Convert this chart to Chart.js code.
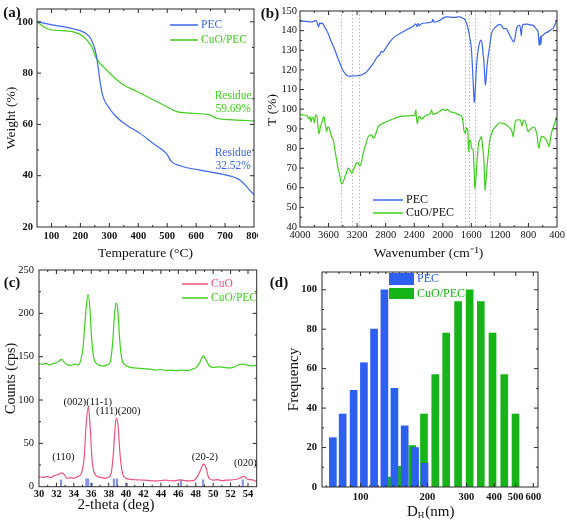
<!DOCTYPE html>
<html>
<head>
<meta charset="utf-8">
<script src="https://cdn.jsdelivr.net/npm/chart.js@4.4.1/dist/chart.umd.min.js"></script>
<style>
  body { margin: 0; background: #fff; }
  #wrap { position: relative; width: 567px; height: 526px; overflow: hidden; background: #fff; }
  canvas { position: absolute; }
</style>
</head>
<body>
<div id="wrap">
  <canvas id="chartA" width="258" height="262" style="left:0;top:0"></canvas>
  <canvas id="chartB" width="309" height="262" style="left:258px;top:0"></canvas>
  <canvas id="chartC" width="260" height="264" style="left:0;top:262px"></canvas>
  <canvas id="chartD" width="307" height="264" style="left:260px;top:262px"></canvas>
</div>
<script>
// ---- (a) TGA ----
const tgaTempPec   = [50, 94, 175, 215, 238, 255, 261, 267, 278, 296, 324, 359, 405, 451, 497, 515, 544, 613, 705, 751, 800];
const tgaWeightPec = [100, 99, 97.3, 95.7, 93, 87, 82.6, 77.4, 70.9, 67, 63, 59.8, 56.6, 52.6, 48.7, 45.5, 43.9, 42.2, 40.2, 38.3, 32.5];
const tgaTempCuo   = [50, 70, 94, 175, 209, 238, 255, 278, 313, 348, 394, 451, 497, 532, 578, 647, 670, 728, 800];
const tgaWeightCuo = [100, 98.3, 97, 96.1, 94.4, 90.5, 85.8, 82.6, 78.7, 75.5, 72.9, 69.6, 67, 65, 64.4, 63.7, 62.4, 61.8, 61.4];
const tgaTicksX = [100, 200, 300, 400, 500, 600, 700, 800];
const tgaTicksY = [20, 40, 60, 80, 100];

// ---- (b) FTIR ----
const wnPec = [4000, 3900, 3850, 3813, 3776, 3755, 3739, 3725, 3711, 3690, 3673, 3650, 3627, 3600, 3580, 3545, 3510, 3475, 3440, 3405, 3370, 3335, 3300, 3230, 3160, 3110, 3067, 3020, 2974, 2930, 2900, 2881, 2860, 2840, 2811, 2775, 2741, 2680, 2601, 2500, 2414, 2380, 2360, 2345, 2330, 2300, 2228, 2150, 2140, 2120, 2041, 1990, 1948, 1850, 1761, 1720, 1691, 1665, 1645, 1620, 1598, 1580, 1561, 1555, 1545, 1528, 1505, 1481, 1465, 1450, 1435, 1425, 1410, 1402, 1392, 1380, 1365, 1340, 1318, 1270, 1230, 1202, 1170, 1150, 1108, 1080, 1055, 1038, 1020, 1001, 985, 970, 959, 940, 922, 912, 900, 892, 880, 866, 820, 760, 735, 700, 680, 665, 650, 642, 635, 626, 618, 600, 572, 520, 470, 455, 430, 400];
const tPec  = [144.9, 144.7, 144.4, 144.6, 145.2, 143.5, 141.9, 144, 143.6, 143.8, 143.2, 141.5, 140.2, 138, 136, 133, 130, 126.5, 123.3, 120.2, 118.2, 117, 116.8, 117, 117.2, 118, 119, 121, 123.3, 126, 127.2, 127.8, 129.5, 129, 130.5, 132.5, 134.3, 136.7, 138.5, 140.6, 142.2, 143.5, 142, 143.6, 142.5, 143.5, 143.9, 144.5, 145.8, 144.3, 145.3, 146.5, 147, 146.8, 147, 146.3, 145.6, 143.5, 141, 136, 130, 118, 104.5, 103.5, 110, 121.6, 130, 134.3, 135.2, 133.5, 128, 125, 115, 112.3, 116, 122, 126.7, 133, 138.5, 141.5, 142.8, 143.2, 142.4, 141, 141, 139, 137, 136, 134.8, 134.3, 137, 140.5, 141.9, 142.6, 142.7, 141, 137.5, 141, 142.8, 143.2, 143.3, 142.8, 142.7, 141.3, 140.5, 139.3, 133, 132.5, 137, 133, 136.8, 137.5, 138.5, 139.5, 140.8, 141, 143, 145.3];
const wnCuo = [4000, 3950, 3900, 3870, 3860, 3845, 3830, 3813, 3800, 3785, 3767, 3750, 3738, 3729, 3715, 3697, 3680, 3664, 3650, 3635, 3627, 3610, 3590, 3575, 3557, 3534, 3510, 3487, 3468, 3450, 3430, 3417, 3400, 3385, 3370, 3345, 3324, 3300, 3277, 3255, 3230, 3210, 3198, 3180, 3160, 3140, 3114, 3080, 3044, 3020, 2997, 2980, 2965, 2940, 2904, 2850, 2787, 2700, 2601, 2500, 2391, 2377, 2368, 2354, 2340, 2321, 2300, 2228, 2180, 2158, 2140, 2088, 2040, 1994, 1960, 1940, 1901, 1850, 1800, 1761, 1735, 1724, 1712, 1705, 1690, 1682, 1670, 1659, 1648, 1640, 1635, 1625, 1612, 1595, 1575, 1562, 1552, 1547, 1538, 1519, 1500, 1481, 1470, 1458, 1445, 1425, 1415, 1407, 1398, 1379, 1360, 1342, 1320, 1295, 1250, 1202, 1150, 1108, 1070, 1038, 1025, 1015, 1000, 985, 968, 940, 912, 900, 889, 878, 852, 830, 805, 780, 758, 735, 712, 695, 679, 665, 651, 640, 620, 595, 575, 548, 530, 511, 495, 478, 455, 432, 415, 400];
const tCuo  = [97.4, 97, 96.5, 95, 96.2, 93.5, 95.8, 95.3, 93, 96.5, 97, 92, 88, 87.7, 91, 92.8, 95, 96.2, 93, 90, 88.6, 91, 90.3, 88, 86, 84.3, 79, 74.2, 70, 67.4, 63.5, 61.8, 62.5, 64, 65.7, 68, 70, 69, 67.4, 69, 70.8, 72.5, 72.8, 72.2, 71.1, 73, 77.6, 82, 86, 86.7, 86.9, 85.6, 85.2, 87.5, 91.1, 92.6, 93.6, 95, 96.2, 96.6, 97, 99.6, 95, 92.8, 96, 96.2, 95, 97, 97.5, 99.6, 97.3, 97.9, 99, 99.9, 99.2, 100, 98.7, 98.4, 97.5, 97, 96.2, 95.3, 92, 89.4, 88, 87.7, 90.5, 90.2, 88, 80, 78.4, 84, 84.3, 80, 79.3, 70, 61, 59.5, 64, 74.2, 82, 84.3, 85.5, 86, 82, 74.2, 65, 58.5, 62, 70.8, 78, 84.3, 87, 89.4, 91.5, 93.1, 92.6, 92, 90.6, 89.4, 87.5, 86, 90, 93.5, 94.5, 94.6, 94.5, 93, 91.5, 93.5, 94.5, 92, 88.6, 89.5, 90.3, 90.8, 90.8, 89, 86.9, 82, 80.1, 83, 86, 86, 85.5, 84.3, 82.5, 81, 84, 87.7, 90.5, 92.8, 94.5, 96.2];
const wnMarkers = [3426, 3277, 3174, 1682, 1635, 1551, 1342];
const ftirTicksX = [4000, 3600, 3200, 2800, 2400, 2000, 1600, 1200, 800, 400];
const ftirTicksY = [40, 50, 60, 70, 80, 90, 100, 110, 120, 130, 140, 150];

// ---- (c) XRD ----
const thetaCuo  = [30, 30.5, 31, 31.3, 31.7, 32, 32.3, 32.6, 32.9, 33.2, 33.6, 34, 34.4, 34.8, 35.0, 35.2, 35.4, 35.67, 35.9, 36.1, 36.4, 36.8, 37.2, 37.6, 38.0, 38.3, 38.55, 38.75, 38.9, 39.1, 39.3, 39.6, 40.0, 40.5, 41, 41.6, 42.5, 43.5, 44.5, 45.5, 46.2, 47, 47.7, 48.2, 48.5, 48.8, 48.95, 49.2, 49.5, 50, 50.5, 51, 51.5, 52, 52.5, 53, 53.5, 54, 54.5, 55];
const countsCuo = [11.5, 10.8, 11.8, 10.5, 12.5, 13.5, 14.5, 16, 14, 9.6, 10.5, 9.8, 11.5, 14, 20, 35, 70, 92, 65, 30, 15, 11.5, 10.5, 9.6, 11, 16, 40, 70, 79, 68, 38, 15, 9.6, 8.5, 8, 7.7, 7.2, 6.8, 7.5, 6.8, 7.8, 6.8, 7, 12, 18, 25, 26, 21, 10, 7.5, 8.2, 6.9, 7.5, 7.7, 8.3, 9.5, 12, 8.5, 7.8, 5.8];
const thetaComp  = [30, 30.4, 30.8, 31.2, 31.6, 32, 32.3, 32.6, 32.9, 33.3, 33.7, 34.1, 34.5, 34.8, 35.05, 35.25, 35.45, 35.65, 35.85, 36.05, 36.3, 36.6, 37, 37.4, 37.8, 38.15, 38.45, 38.65, 38.85, 39.05, 39.25, 39.5, 39.9, 40.4, 41, 41.6, 42.2, 42.8, 43.4, 44, 44.6, 45.2, 45.8, 46.4, 47, 47.6, 48.1, 48.5, 48.85, 49.2, 49.6, 50.1, 50.6, 51.2, 51.8, 52.4, 53, 53.5, 54, 54.5, 55];
const countsComp = [142.3, 141, 142.5, 140.5, 142, 143, 145, 147, 143.5, 140.5, 140, 141.5, 140.5, 146, 160, 185, 210, 222, 205, 170, 148, 142.3, 140, 139.2, 140.5, 143, 165, 195, 212, 204, 172, 148, 140.5, 138, 137, 136.5, 136, 135.5, 134.6, 135.2, 134, 134.6, 133.8, 134.5, 134, 135.5, 138, 144, 151, 146, 139, 137.5, 138.2, 137.7, 137, 138, 141, 141.5, 140, 139.5, 140.4];
const refTheta  = [32.53, 35.45, 35.65, 36.05, 38.6, 38.95, 40.1, 46.3, 48.85, 53.4];
const refHeight = [8, 9, 9, 4, 9, 9, 4, 8, 8, 8];
const xrdTicksX = [30, 32, 34, 36, 38, 40, 42, 44, 46, 48, 50, 52, 54];
const xrdTicksY = [0, 50, 100, 150, 200, 250];

// ---- (d) DLS ----
const dlsSizePec = [75, 83, 93, 103.5, 115, 128, 142, 158, 176, 194];
const dlsFreqPec = [25, 37, 49, 63, 80, 100, 50, 31, 20, 12];
const dlsSizeCuo = [135, 149, 171, 193, 217, 243, 275, 310, 348, 393, 444, 499];
const dlsFreqCuo = [5, 10.5, 21, 37, 57, 78, 94, 100, 94, 78, 57, 37];
const dlsTicksX = [100, 200, 300, 400, 500, 600];
const dlsTicksY = [0, 20, 40, 60, 80, 100];

const SERIF = "'Liberation Serif', 'Times New Roman', serif";
const BLUE = '#3a66ee';
const GREEN = '#3fcf1c';
const PINK = '#f0507c';
const BAR_BLUE = '#2d5ff0';
const BAR_GREEN = '#17b417';

const pts = (xs, ys) => xs.map((x, i) => ({x: x, y: ys[i]}));

function setTicks(vals) {
  return s => { s.ticks = vals.map(v => ({value: v})); };
}
function fixSize(size) {
  return s => {
    if (s.isHorizontal()) s.height = size; else s.width = size;
    s.paddingLeft = 0; s.paddingRight = 0; s.paddingTop = 0; s.paddingBottom = 0;
  };
}
function axis(o) {
  return {
    type: o.type || 'linear',
    min: o.min, max: o.max, reverse: !!o.reverse, offset: false, bounds: 'data',
    afterBuildTicks: setTicks(o.ticks),
    afterFit: fixSize(o.size),
    grid: {display: false, drawTicks: false},
    border: {display: false},
    ticks: {
      autoSkip: false, maxRotation: 0, minRotation: 0, padding: o.pad,
      color: '#111', font: {family: SERIF, size: 10.5, weight: o.bold ? 'bold' : 'normal'},
      callback: v => String(v)
    },
    title: o.title ? {display: true, text: o.title, color: '#111',
      font: {family: SERIF, size: o.tsize || 14}, padding: o.tpad} : {display: false}
  };
}

// frame, inward ticks, labels, legends
function deco(cfg) {
  return {
    id: 'deco',
    beforeDatasetsDraw(chart) {
      if (!cfg.vlines) return;
      const {ctx, chartArea: a} = chart;
      ctx.save();
      ctx.strokeStyle = '#bcbcbc'; ctx.lineWidth = 1; ctx.setLineDash([1.5, 2]);
      cfg.vlines.forEach(v => {
        const x = Math.round(chart.scales.x.getPixelForValue(v)) + 0.5;
        ctx.beginPath(); ctx.moveTo(x, a.top); ctx.lineTo(x, a.bottom); ctx.stroke();
      });
      ctx.restore();
    },
    afterDraw(chart) {
      const {ctx, chartArea: a} = chart;
      const sx = chart.scales.x, sy = chart.scales.y;
      ctx.save();
      ctx.strokeStyle = '#2a2a2a'; ctx.lineWidth = 1;
      ctx.strokeRect(a.left, a.top, a.right - a.left, a.bottom - a.top);
      const marks = (scale, vals, len) => {
        const lo = Math.min(scale.min, scale.max), hi = Math.max(scale.min, scale.max);
        vals.filter(v => v > lo && v < hi).forEach(v => {
          const p = scale.getPixelForValue(v);
          ctx.beginPath();
          if (scale.isHorizontal()) {
            ctx.moveTo(p, a.bottom); ctx.lineTo(p, a.bottom - len);
            ctx.moveTo(p, a.top); ctx.lineTo(p, a.top + len);
          } else {
            ctx.moveTo(a.left, p); ctx.lineTo(a.left + len, p);
            ctx.moveTo(a.right, p); ctx.lineTo(a.right - len, p);
          }
          ctx.stroke();
        });
      };
      marks(sx, sx.ticks.map(t => t.value), 4);
      marks(sy, sy.ticks.map(t => t.value), 4);
      marks(sx, cfg.minorX || [], 2);
      marks(sy, cfg.minorY || [], 2);

      ctx.textBaseline = 'middle';
      (cfg.texts || []).forEach(t => {
        let x, y;
        if (t.at) { x = sx.getPixelForValue(t.at[0]); y = sy.getPixelForValue(t.at[1]); }
        else { x = t.x - cfg.ox; y = t.y - cfg.oy; }
        ctx.font = t.font; ctx.fillStyle = t.color || '#111';
        ctx.textAlign = t.align || 'center';
        ctx.fillText(t.text, x, y);
      });
      (cfg.legend || []).forEach(l => {
        const x = l.x - cfg.ox, y = l.y - cfg.oy;
        if (l.box) {
          ctx.fillStyle = l.color;
          ctx.fillRect(x, y - l.h / 2, l.w, l.h);
        } else {
          ctx.strokeStyle = l.color; ctx.lineWidth = 1.5;
          ctx.beginPath(); ctx.moveTo(x, y); ctx.lineTo(x + l.w, y); ctx.stroke();
        }
        ctx.font = l.font; ctx.fillStyle = l.textColor; ctx.textAlign = 'left';
        ctx.fillText(l.text, x + l.w + 3, y);
      });
      if (cfg.sub) {
        // axis title with a subscript
        const s = cfg.sub;
        let x = s.x - cfg.ox; const y = s.y - cfg.oy;
        ctx.fillStyle = '#111'; ctx.textAlign = 'left';
        ctx.font = s.font; ctx.fillText(s.main, x, y); x += ctx.measureText(s.main).width;
        ctx.font = s.subFont; ctx.fillText(s.sub, x, y + 4); x += ctx.measureText(s.sub).width + 1;
        ctx.font = s.font; ctx.fillText(s.rest, x, y);
      }
      ctx.restore();
    }
  };
}

const base = {
  responsive: false, animation: false, events: [],
  plugins: {legend: {display: false}, tooltip: {enabled: false}},
  elements: {point: {radius: 0}, line: {borderWidth: 1.2, cubicInterpolationMode: 'monotone'}}
};
const LBL = 'bold 15px ' + SERIF;
const LEG = '11.5px ' + SERIF;

// (a)
new Chart(document.getElementById('chartA'), {
  type: 'line',
  data: {datasets: [
    {data: pts(tgaTempPec, tgaWeightPec), borderColor: BLUE},
    {data: pts(tgaTempCuo, tgaWeightCuo), borderColor: GREEN}
  ]},
  options: Object.assign({}, base, {
    layout: {padding: {left: 0, right: 4, top: 9, bottom: 0}},
    scales: {
      x: axis({min: 50, max: 800, ticks: tgaTicksX, size: 35, pad: 3, bold: true, title: 'Temperature (°C)', tsize: 13.5, tpad: {top: 0, bottom: 0}}),
      y: axis({min: 20, max: 105, ticks: tgaTicksY, size: 37, pad: 4, bold: true, title: 'Weight (%)', tsize: 13.5, tpad: {top: 3, bottom: 0}})
    }
  }),
  plugins: [deco({
    ox: 0, oy: 0,
    minorX: [150, 250, 350, 450, 550, 650, 750],
    minorY: [30, 50, 70, 90],
    texts: [
      {text: '(a)', x: 12, y: 13, font: LBL},
      {text: 'Residue', at: [728, 70.9], color: GREEN, font: LEG},
      {text: '59.69%', at: [728, 65.9], color: GREEN, font: LEG},
      {text: 'Residue', at: [728, 48.7], color: BLUE, font: LEG},
      {text: '32.52%', at: [728, 43.9], color: BLUE, font: LEG}
    ],
    legend: [
      {x: 170, y: 25, w: 28, color: BLUE, text: 'PEC', textColor: BLUE, font: LEG},
      {x: 170, y: 40, w: 28, color: GREEN, text: 'CuO/PEC', textColor: GREEN, font: LEG}
    ]
  })]
});

// (b)
new Chart(document.getElementById('chartB'), {
  type: 'line',
  data: {datasets: [
    {data: pts(wnPec, tPec), borderColor: BLUE},
    {data: pts(wnCuo, tCuo), borderColor: GREEN}
  ]},
  options: Object.assign({}, base, {
    layout: {padding: {left: 0, right: 10, top: 11, bottom: 0}},
    scales: {
      x: axis({min: 400, max: 4000, reverse: true, ticks: ftirTicksX, size: 35, pad: 2, title: 'Wavenumber (cm\u207B\u00B9)', tsize: 13.5, tpad: {top: 0, bottom: 0}}),
      y: axis({min: 40, max: 150, ticks: ftirTicksY, size: 42, pad: 3, size2: 0})
    }
  }),
  plugins: [deco({
    ox: 258, oy: 0, vlines: wnMarkers,
    minorX: [3800, 3400, 3000, 2600, 2200, 1800, 1400, 1000, 600],
    minorY: [45, 55, 65, 75, 85, 95, 105, 115, 125, 135, 145],
    texts: [{text: '(b)', x: 270, y: 14, font: LBL}],
    legend: [
      {x: 373, y: 200, w: 30, color: BLUE, text: 'PEC', textColor: '#111', font: '12px ' + SERIF},
      {x: 373, y: 213, w: 30, color: GREEN, text: 'CuO/PEC', textColor: '#111', font: '12px ' + SERIF}
    ]
  }), {
    id: 'yTitleB',
    afterDraw(chart) {
      // rotated y title, placed a little above the axis middle as in the figure
      const ctx = chart.ctx;
      ctx.save();
      ctx.translate(14, 110);
      ctx.rotate(-Math.PI / 2);
      ctx.font = '13.5px ' + SERIF; ctx.fillStyle = '#111';
      ctx.textAlign = 'center'; ctx.textBaseline = 'middle';
      ctx.fillText('T (%)', 0, 0);
      ctx.restore();
    }
  }]
});

// (c)
new Chart(document.getElementById('chartC'), {
  type: 'line',
  data: {datasets: [
    {data: pts(thetaCuo, countsCuo), borderColor: PINK},
    {data: pts(thetaComp, countsComp), borderColor: GREEN},
    {type: 'bar', data: pts(refTheta, refHeight), backgroundColor: '#8394ea', barThickness: 1.5, grouped: false}
  ]},
  options: Object.assign({}, base, {
    layout: {padding: {left: 0, right: 3.3, top: 8, bottom: 0}},
    scales: {
      x: axis({min: 30, max: 55, ticks: xrdTicksX, size: 39.3, pad: 1, bold: true}),
      y: axis({min: 0, max: 250, ticks: xrdTicksY, size: 39, pad: 5, title: 'Counts (cps)', tsize: 14, tpad: {top: 3, bottom: 0}})
    }
  }),
  plugins: [deco({
    ox: 0, oy: 262,
    minorX: [31, 33, 35, 37, 39, 41, 43, 45, 47, 49, 51, 53],
    minorY: [25, 75, 125, 175, 225],
    texts: [
      {text: '(c)', x: 12, y: 283, font: LBL},
      {text: '2-theta (deg)', x: 116, y: 505, font: '15px ' + SERIF},
      {text: '(110)', at: [32.8, 34], font: '10.5px ' + SERIF},
      {text: '(002)(11-1)', at: [35.6, 98], font: '10.5px ' + SERIF},
      {text: '(111)(200)', at: [39.1, 86.5], font: '10.5px ' + SERIF},
      {text: '(20-2)', at: [49.05, 34.5], font: '10.5px ' + SERIF},
      {text: '(020)', at: [53.7, 27], font: '10.5px ' + SERIF}
    ],
    legend: [
      {x: 182, y: 284, w: 26, color: PINK, text: 'CuO', textColor: PINK, font: LEG},
      {x: 182, y: 298, w: 26, color: GREEN, text: 'CuO/PEC', textColor: GREEN, font: LEG}
    ]
  })]
});

// (d)
new Chart(document.getElementById('chartD'), {
  type: 'bar',
  data: {datasets: [
    {data: pts(dlsSizePec, dlsFreqPec), backgroundColor: BAR_BLUE, barThickness: 7, grouped: false},
    {data: pts(dlsSizeCuo, dlsFreqCuo), backgroundColor: BAR_GREEN, barThickness: 7, grouped: false}
  ]},
  options: Object.assign({}, base, {
    layout: {padding: {left: 23, right: 29, top: 10, bottom: 0}},
    scales: {
      x: axis({type: 'logarithmic', min: 67, max: 630, ticks: dlsTicksX, size: 39, pad: 4, bold: true}),
      y: axis({min: 0, max: 109, ticks: dlsTicksY, size: 39, pad: 5, bold: true, title: 'Frequency', tsize: 15, tpad: {top: 2, bottom: 0}})
    }
  }),
  plugins: [deco({
    ox: 260, oy: 262,
    minorX: [70, 80, 90, 110, 120, 130, 140, 150, 160, 170, 180, 190],
    minorY: [10, 30, 50, 70, 90],
    texts: [{text: '(d)', x: 279, y: 283, font: LBL}],
    legend: [
      {box: true, x: 389, y: 279, w: 25, h: 12, color: BAR_BLUE, text: 'PEC', textColor: BAR_BLUE, font: '12px ' + SERIF},
      {box: true, x: 389, y: 293.5, w: 25, h: 11, color: BAR_GREEN, text: 'CuO/PEC', textColor: BAR_GREEN, font: '12px ' + SERIF}
    ],
    sub: {x: 407, y: 512, main: 'D', sub: 'H', rest: '(nm)', font: '15px ' + SERIF, subFont: '9px ' + SERIF}
  })]
});
</script>
</body>
</html>
